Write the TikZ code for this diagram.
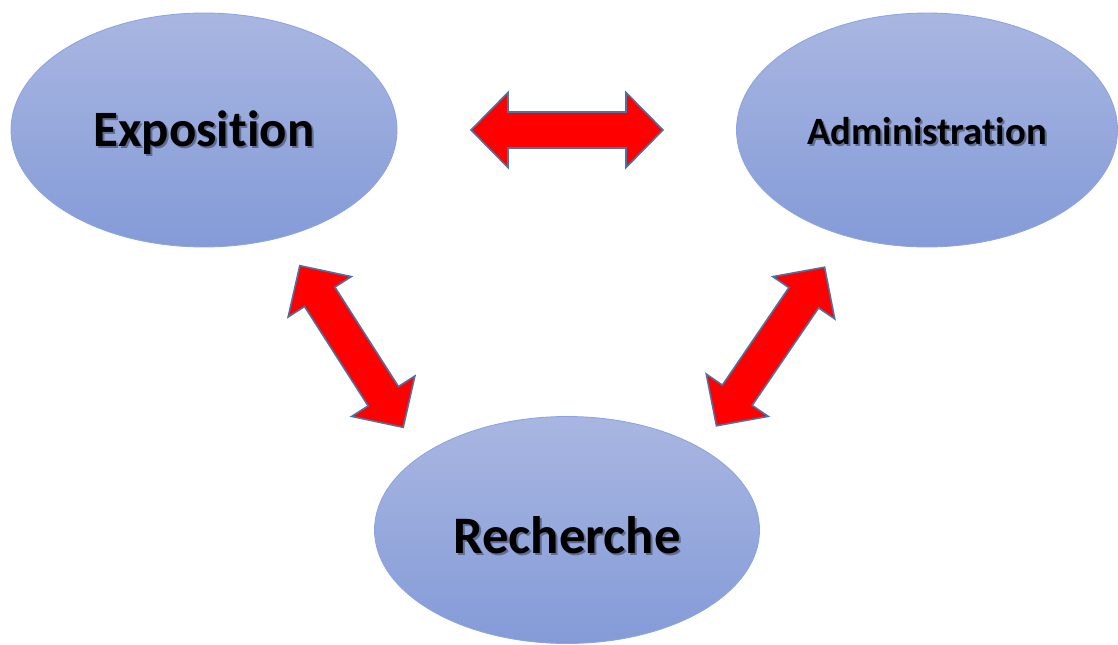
\documentclass[tikz,border=0pt]{standalone}
\usepackage{fontspec}
\setmainfont{Carlito}[Ligatures=NoCommon]
\usetikzlibrary{shapes.geometric}
\definecolor{elltop}{RGB}{169,182,225}
\definecolor{ellbot}{RGB}{132,155,216}
\definecolor{ellline}{RGB}{140,165,225}
\definecolor{arrline}{RGB}{75,115,165}
\tikzset{
  bubble/.style={ellipse, top color=elltop, bottom color=ellbot, draw=ellline, line width=0.5pt, inner sep=0pt},
  blockarrow/.style={fill=red, draw=arrline, line width=0.9pt, line join=miter},
  lbl/.style={text=black},
  lblshadow/.style={text=black, opacity=0.35}
}
\newcommand{\dblarrowshape}{(-96,0) -- (-59,37.5) -- (-59,18) -- (59,18) -- (59,37.5) -- (96,0) -- (59,-37.5) -- (59,-18) -- (-59,-18) -- (-59,-37.5) -- cycle}
\begin{document}
\begin{tikzpicture}[x=0.02cm,y=-0.02cm]
\useasboundingbox (0,0) rectangle (1118,645);
% ellipses
\node[bubble, minimum width=7.72cm, minimum height=4.68cm] (expo) at (204,130) {};
\node[bubble, minimum width=7.62cm, minimum height=4.68cm] (admin) at (927,130) {};
\node[bubble, minimum width=7.7cm, minimum height=4.54cm] (rech) at (567,530) {};
% labels
\node[lblshadow, font=\fontsize{29}{33}\selectfont\bfseries] at ([shift={(2,5)}]expo.center) {Exposition};
\node[lbl, font=\fontsize{29}{33}\selectfont\bfseries] (expot) at ([shift={(0,2.5)}]expo.center) {Exposition};
\node[lblshadow, font=\fontsize{22}{26}\selectfont\bfseries] at ([shift={(2,3.5)}]admin.center) {Administration};
\node[lbl, font=\fontsize{22}{26}\selectfont\bfseries] (admint) at ([shift={(0,1)}]admin.center) {Administration};
\node[lblshadow, font=\fontsize{30}{34}\selectfont\bfseries] at ([shift={(2,7.5)}]rech.center) {Recherche};
\node[lbl, font=\fontsize{30}{34}\selectfont\bfseries] (recht) at ([shift={(0,5)}]rech.center) {Recherche};
% arrows
\begin{scope}[shift={(567,130)}]
  \draw[blockarrow] \dblarrowshape;
\end{scope}
\begin{scope}[shift={(351.5,346.5)}, rotate=-57.4]
  \draw[blockarrow] \dblarrowshape;
\end{scope}
\begin{scope}[shift={(770.5,346.5)}, rotate=55.7]
  \draw[blockarrow] \dblarrowshape;
\end{scope}
\end{tikzpicture}
\end{document}
